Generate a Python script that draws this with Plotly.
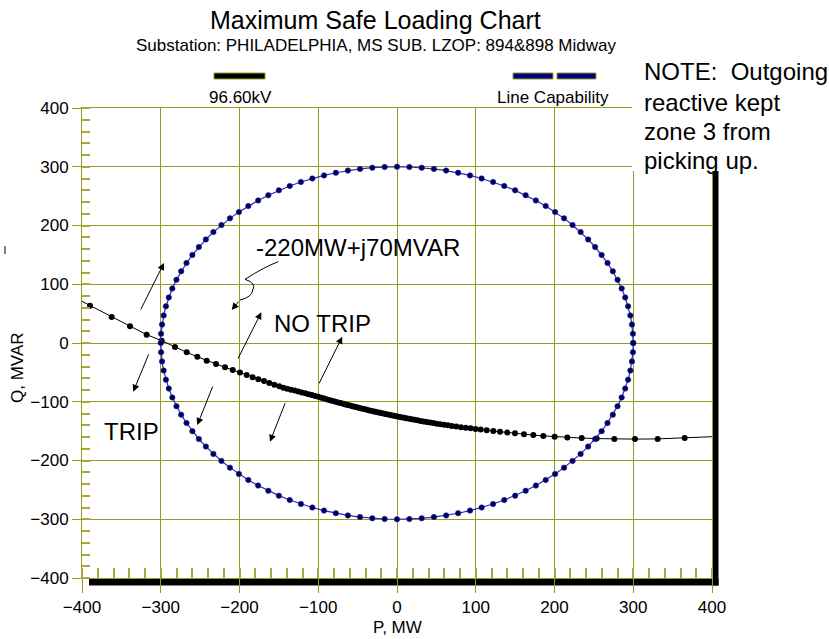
import numpy as np
import plotly.graph_objects as go

# ---------------- data ----------------
# 96.60 kV apparent-load trajectory (P in MW, Q in MVAR)
kv_p = [-422, -389.8, -362.3, -339.0, -317.9, -298.8, -281.9, -267.0, -253.5, -241.7,
        -229.8, -218.4, -208.6, -199.4, -190.9, -183.3, -176.1, -168.9, -162.2, -155.8,
        -149.5, -144.4, -139.5, -134.7, -130.0, -125.4, -120.9, -116.5, -112.2, -108.0,
        -103.9, -99.9, -96.0, -92.2, -88.5, -84.9, -81.4, -78.0, -74.7, -71.5,
        -68.4, -65.4, -62.4, -59.5, -56.6, -53.7, -50.8, -47.9, -45.0, -42.1,
        -39.2, -36.3, -33.4, -30.5, -27.6, -24.7, -21.8, -18.9, -16.0, -13.0,
        -10.0, -7.0, -4.0, -0.9, 2.2, 5.4, 8.6, 11.9, 15.3, 18.8,
        22.4, 26.1, 29.9, 33.8, 37.8, 41.9, 46.1, 50.5, 55.0, 59.7,
        64.5, 69.5, 75.2, 81.2, 87.3, 93.5, 99.8, 106.3, 113.9, 122.3,
        130.8, 140.1, 149.8, 161.3, 173.1, 185.8, 200.2, 216.3, 234.5, 253.5,
        276.0, 302.2, 331.0, 365.3, 405.0]
kv_q = [86.0, 63.5, 44.3, 28.4, 14.2, 4.0, -6.8, -15.9, -23.3, -30.1,
        -35.7, -41.4, -46.0, -50.0, -54.5, -58.4, -61.8, -64.7, -68.1, -71.0,
        -73.7, -76.1, -77.8, -79.4, -81.0, -82.6, -84.2, -85.7, -87.2, -88.7,
        -90.1, -91.4, -93.1, -94.6, -96.0, -97.3, -98.7, -99.9, -101.1, -102.3,
        -103.4, -104.5, -105.5, -106.5, -107.5, -108.5, -109.5, -110.5, -111.4, -112.4,
        -113.3, -114.3, -115.2, -116.1, -117.0, -117.9, -118.7, -119.6, -120.5, -121.3,
        -122.2, -123.1, -123.9, -124.8, -125.6, -126.5, -127.3, -128.2, -129.1, -129.9,
        -130.8, -131.7, -132.6, -133.6, -134.5, -135.4, -136.3, -137.3, -138.2, -139.2,
        -140.1, -141.1, -142.2, -143.2, -144.3, -145.3, -146.3, -147.3, -148.5, -149.8,
        -151.1, -152.5, -153.8, -155.3, -156.8, -158.1, -159.5, -160.7, -161.8, -162.7,
        -163.4, -163.6, -163.2, -161.9, -159.2]

# Line capability: MVA rating circle, one point every 3 degrees
capability_mva = 300
capability_angles_deg = list(range(0, 363, 3))

axis_range = [-400, 400]
major_step = 100
minor_step = 20

title_text = "Maximum Safe Loading Chart"
subtitle_text = "Substation: PHILADELPHIA, MS SUB. LZOP: 894&898 Midway"
series_names = ["96.60kV", "Line Capability"]
note_lines = ["NOTE:\u00a0 Outgoing", "reactive kept", "zone 3 from", "picking up."]

# ---------------- styling helpers ----------------
W, H = 829, 639
ML, MR, MT, MB = 82, 117, 108, 61
PW, PH = W - ML - MR, H - MT - MB


def PX(px):
    return (px - ML) / PW


def PY(py):
    return (H - MB - py) / PH


FONT = "Arial, 'Liberation Sans', sans-serif"
OLIVE = "#9a9a1e"
OLIVE_MINOR = "#a8a83c"

theta = np.deg2rad(capability_angles_deg)
cap_p = capability_mva * np.cos(theta)
cap_q = capability_mva * np.sin(theta)

fig = go.Figure()
fig.add_trace(go.Scatter(
    x=kv_p, y=kv_q, mode="lines+markers", name=series_names[0],
    line=dict(color="black", width=1),
    marker=dict(color="black", size=6),
    showlegend=False))
fig.add_trace(go.Scatter(
    x=cap_p, y=cap_q, mode="lines+markers", name=series_names[1],
    line=dict(color="#2b2bb0", width=1.2),
    marker=dict(color="#000060", size=5.5, line=dict(color="#2020a0", width=0.5)),
    showlegend=False))

shapes = []
# drop shadow of the plot area
shapes.append(dict(type="rect", xref="paper", yref="paper", layer="below",
                   x0=PX(89), x1=PX(718.5), y0=PY(585.5), y1=PY(578.5),
                   fillcolor="black", line=dict(width=0)))
shapes.append(dict(type="rect", xref="paper", yref="paper", layer="below",
                   x0=PX(712), x1=PX(718.5), y0=PY(585.5), y1=PY(114),
                   fillcolor="black", line=dict(width=0)))
# white note box
shapes.append(dict(type="rect", xref="paper", yref="paper", layer="above",
                   x0=PX(632), x1=PX(829), y0=PY(171), y1=PY(50),
                   fillcolor="white", line=dict(width=0)))
# legend swatches
shapes.append(dict(type="rect", xref="paper", yref="paper", layer="above",
                   x0=PX(214), x1=PX(265), y0=PY(79), y1=PY(73),
                   fillcolor="black", line=dict(color=OLIVE, width=1)))
for x0, x1 in [(513, 553), (557, 596)]:
    shapes.append(dict(type="rect", xref="paper", yref="paper", layer="above",
                       x0=PX(x0), x1=PX(x1), y0=PY(79), y1=PY(73),
                       fillcolor="#000080", line=dict(color=OLIVE, width=1)))
# small stray mark at left
shapes.append(dict(type="line", xref="paper", yref="paper",
                   x0=PX(5), x1=PX(5), y0=PY(254), y1=PY(246),
                   line=dict(color="black", width=1)))
# wavy leader from the operating-point label
shapes.append(dict(type="path", xref="x", yref="y", layer="above",
                   path="M -150.7,138.4 Q -168,130 -193,108.4 Q -178,102 -183.2,90.2 Q -184,78 -199.4,73.2",
                   line=dict(color="black", width=1)))

annotations = []


def text_ann(text, px, py, size, **kw):
    d = dict(text=text, xref="paper", yref="paper", x=PX(px), y=PY(py),
             xanchor="center", yanchor="middle", showarrow=False,
             font=dict(size=size, color="black", family=FONT))
    d.update(kw)
    return d


annotations.append(text_ann(title_text, 375, 20, 25))
annotations.append(text_ann(subtitle_text, 376, 46, 17))
annotations.append(text_ann(series_names[0], 240, 97, 17))
annotations.append(text_ann(series_names[1], 553, 97, 17))
for line, py in zip(note_lines, [72, 102, 131, 160]):
    annotations.append(text_ann(line, 642, py, 24, xanchor="left"))
annotations.append(text_ann("P, MW", 397, 627, 17))
annotations.append(text_ann("Q, MVAR", 17, 368, 17, textangle=-90))

# region labels
for txt, x, y in [("-220MW+j70MVAR", -181, 162), ("NO TRIP", -159, 34), ("TRIP", -375, -150)]:
    annotations.append(dict(text=txt, x=x, y=y, xref="x", yref="y",
                            xanchor="left", yanchor="middle",
                            showarrow=False, font=dict(size=24, color="black", family=FONT)))
# arrows (tail -> head)
arrows = [((-326.3, 54.5), (-295.9, 136.2)),
          ((-314.5, -16.5), (-334.9, -82.9)),
          ((-233.3, -71.5), (-253.6, -139.6)),
          ((-202.8, -28.9), (-172.3, 52.3)),
          ((-141.3, -99.9), (-161.3, -168.0)),
          ((-99.9, -71.5), (-69.5, 10.7)),
          ((-199.4, 73.2), (-209.9, 56.2))]
for (tx, ty), (hx, hy) in arrows:
    annotations.append(dict(x=hx, y=hy, ax=tx, ay=ty, xref="x", yref="y",
                            axref="x", ayref="y", text="", showarrow=True,
                            arrowhead=2, arrowsize=1.4, arrowwidth=1,
                            arrowcolor="black", standoff=0))

axis_common = dict(
    range=axis_range, tickmode="linear", tick0=0, dtick=major_step,
    showgrid=True, gridcolor=OLIVE, gridwidth=1,
    zeroline=False, showline=True, linecolor=OLIVE, linewidth=1, mirror=True,
    tickcolor=OLIVE, tickwidth=1, ticks="outside",
    tickfont=dict(size=17, color="black", family=FONT),
)
fig.update_xaxes(**axis_common, ticklen=14,
                 minor=dict(ticks="inside", ticklen=10, tick0=0, dtick=minor_step,
                            tickcolor=OLIVE_MINOR, tickwidth=1.5, showgrid=False))
fig.update_yaxes(**axis_common, ticklen=9,
                 minor=dict(ticks="inside", ticklen=8, tick0=0, dtick=minor_step,
                            tickcolor=OLIVE_MINOR, tickwidth=1.5, showgrid=False))

fig.update_layout(
    width=W, height=H,
    margin=dict(l=ML, r=MR, t=MT, b=MB, pad=0),
    paper_bgcolor="white", plot_bgcolor="white",
    font=dict(family=FONT, color="black"),
    shapes=shapes, annotations=annotations,
    showlegend=False,
)

fig.write_html("out.html")
